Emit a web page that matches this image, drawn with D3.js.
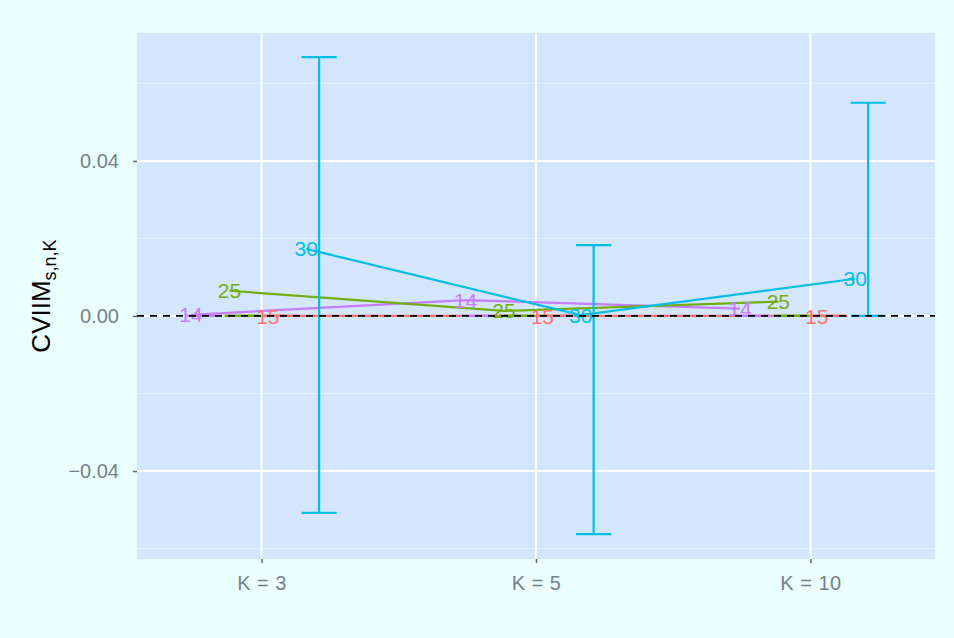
<!DOCTYPE html>
<html><head><meta charset="utf-8">
<script src="https://cdn.jsdelivr.net/npm/d3@7"></script>
<style>
html,body{margin:0;padding:0;background:#EAFFFE;}
svg{display:block;font-family:"Liberation Sans",Arial,sans-serif;}
</style></head>
<body>
<svg id="chart" width="954" height="638"></svg>
<script>
// ---- data ----
const categories = ["K = 3", "K = 5", "K = 10"];
const seriesNames = ["14", "25", "15", "30"];
const seriesColors = ["#C77CFF", "#72AE12", "#F8766D", "#00BFE3"];
const values14 = [0.0003, 0.0041, 0.0019];
const values25 = [0.0065, 0.0013, 0.0037];
const values15 = [0.0000, 0.0000, 0.0000];
const values30 = [0.0173, 0.0002, 0.0096];
const lower14 = [0, 0, 0], upper14 = [0, 0, 0];
const lower25 = [0, 0, 0], upper25 = [0, 0, 0];
const lower15 = [0, 0, 0], upper15 = [0, 0, 0];
const lower30 = [-0.0508, -0.0563, 0.0000];
const upper30 = [0.0668, 0.0183, 0.0550];
const yTicks = [-0.04, 0.00, 0.04];
const yMinor = [-0.06, -0.02, 0.02, 0.06];
const yTickLabels = ["\u22120.04", "0.00", "0.04"];

const series = [
  {name: "14", vals: values14, lo: lower14, hi: upper14},
  {name: "25", vals: values25, lo: lower25, hi: upper25},
  {name: "15", vals: values15, lo: lower15, hi: upper15},
  {name: "30", vals: values30, lo: lower30, hi: upper30}
];

// ---- layout ----
const svg = d3.select("#chart");
const P = {left: 137, right: 935, top: 33, bottom: 559};
svg.append("rect").attr("width", 954).attr("height", 638).attr("fill", "#EAFFFE");

const x = d3.scalePoint().domain(categories).range([P.left, P.right]).padding(0.4536);
const step = x.step();
const y = d3.scaleLinear().domain([-0.0627, 0.0730]).range([P.bottom, P.top]);

const color = d3.scaleOrdinal().domain(seriesNames).range(seriesColors);
const dodge = d3.scaleLinear().domain([0, 3]).range([-0.21 * step, 0.21 * step]);
const pointShift = -0.047 * step;
const whisker = 0.128 * step / 2;

// panel
svg.append("rect").attr("x", P.left).attr("y", P.top)
  .attr("width", P.right - P.left).attr("height", P.bottom - P.top).attr("fill", "#D4E6FD");

// grid
const g = svg.append("g");
g.selectAll(".minor").data(yMinor).join("line")
  .attr("x1", P.left).attr("x2", P.right)
  .attr("y1", d => y(d)).attr("y2", d => y(d))
  .attr("stroke", "#E6F0FE").attr("stroke-width", 1);
g.selectAll(".major").data(yTicks).join("line")
  .attr("x1", P.left).attr("x2", P.right)
  .attr("y1", d => y(d)).attr("y2", d => y(d))
  .attr("stroke", "#FFFFFF").attr("stroke-width", 2);
g.selectAll(".vmajor").data(categories).join("line")
  .attr("x1", d => x(d)).attr("x2", d => x(d))
  .attr("y1", P.top).attr("y2", P.bottom)
  .attr("stroke", "#FFFFFF").attr("stroke-width", 2);

// axes
const yAxis = d3.axisLeft(y).tickValues(yTicks).tickSize(4).tickPadding(14)
  .tickFormat((d, i) => yTickLabels[i]);
const ya = svg.append("g").attr("transform", `translate(${P.left},0)`).call(yAxis);
const xAxis = d3.axisBottom(x).tickSize(4).tickPadding(13);
const xa = svg.append("g").attr("transform", `translate(0,${P.bottom})`).call(xAxis);
[ya, xa].forEach(a => {
  a.select(".domain").remove();
  a.selectAll(".tick line").attr("stroke", "#5B6676").attr("stroke-width", 1.5);
  a.selectAll(".tick text").attr("fill", "#74808F").style("font-size", "20px")
    .style("font-family", "'Liberation Sans', Arial, sans-serif");
});
xa.selectAll(".tick text").style("letter-spacing", "0.5px");

// y title
const yt = svg.append("text")
  .attr("transform", "translate(50,296) rotate(-90)")
  .attr("text-anchor", "middle").attr("fill", "#000").style("font-size", "26px");
yt.append("tspan").text("CVIIM");
yt.append("tspan").attr("dy", 6).style("font-size", "18px").text("s,n,K");

// lines
const plot = svg.append("g");
const line = d3.line().x(d => d[0]).y(d => d[1]);
series.forEach((s, si) => {
  const pts = categories.map((c, i) => [x(c) + dodge(si) + pointShift, y(s.vals[i])]);
  plot.append("path").datum(pts).attr("d", line).attr("fill", "none")
    .attr("stroke", color(s.name)).attr("stroke-width", 2.2);
});

// error bars
series.forEach((s, si) => {
  categories.forEach((c, i) => {
    const cx = x(c) + dodge(si);
    const eg = plot.append("g").attr("stroke", color(s.name)).attr("stroke-width", 2.2);
    eg.append("line").attr("x1", cx).attr("x2", cx).attr("y1", y(s.lo[i])).attr("y2", y(s.hi[i]));
    eg.append("line").attr("x1", cx - whisker).attr("x2", cx + whisker).attr("y1", y(s.hi[i])).attr("y2", y(s.hi[i]));
    eg.append("line").attr("x1", cx - whisker).attr("x2", cx + whisker).attr("y1", y(s.lo[i])).attr("y2", y(s.lo[i]));
  });
});

// labels
series.forEach((s, si) => {
  categories.forEach((c, i) => {
    plot.append("text")
      .attr("x", x(c) + dodge(si) + pointShift).attr("y", y(s.vals[i]))
      .attr("dy", "0.36em").attr("text-anchor", "middle")
      .attr("fill", color(s.name)).style("font-size", "21px").text(s.name);
  });
});

// zero reference line
svg.append("line").attr("x1", P.left).attr("x2", P.right)
  .attr("y1", y(0)).attr("y2", y(0))
  .attr("stroke", "#000").attr("stroke-width", 1.8).attr("stroke-dasharray", "7,6");
</script>
</body></html>
